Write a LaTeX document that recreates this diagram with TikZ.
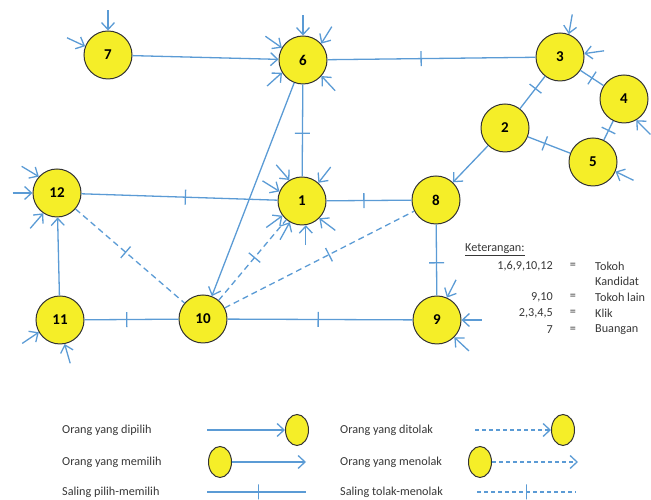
\documentclass[tikz,border=0pt]{standalone}
\usepackage{fontspec}
\setmainfont{Carlito}
\usetikzlibrary{arrows.meta,calc,shapes.geometric}
\definecolor{lblue}{RGB}{91,155,213}
\definecolor{nyellow}{RGB}{245,238,40}
\definecolor{ink}{RGB}{55,55,55}
\tikzset{
  pnode/.style={circle, draw=black!80, line width=1pt, fill=nyellow, minimum size=48pt, inner sep=0pt, font=\bfseries\fontsize{15}{15}\selectfont},
  lnode/.style={ellipse, draw=black!80, line width=1pt, fill=nyellow, minimum width=23pt, minimum height=31pt, inner sep=0pt},
  link/.style={draw=lblue, line width=1.3pt},
  arr/.style={link, -{Straight Barb[length=7pt,width=13pt]}},
  rej/.style={link, dash pattern=on 6pt off 4pt},
  rejarr/.style={rej, -{Straight Barb[length=7pt,width=13pt]}},
  tickmark/.style={draw=lblue, solid, line width=1.3pt, rectangle, minimum width=0pt, minimum height=15pt, inner sep=0pt, sloped},
  txt/.style={text=ink, font=\fontsize{12.2}{14}\selectfont, inner sep=0pt}
}
\newcommand\stub[3]{\draw[arr] ($(#1.#2)+(#3:20pt)$) -- (#1.#2);}
\begin{document}
\begin{tikzpicture}[x=1pt,y=1pt]
\useasboundingbox (0,0) rectangle (651,500);
% nodes
\node[pnode] (n7) at (108,445) {7};
\node[pnode] (n6) at (303,440) {6};
\node[pnode] (n3) at (560,443) {3};
\node[pnode] (n4) at (624,401) {4};
\node[pnode] (n2) at (505,372) {2};
\node[pnode] (n5) at (593,338) {5};
\node[pnode] (n12) at (57,307) {12};
\node[pnode] (n1) at (302,299) {1};
\node[pnode] (n8) at (436,300) {8};
\node[pnode] (n11) at (60,180) {11};
\node[pnode] (n10) at (203,181) {10};
\node[pnode] (n9) at (437,180) {9};
% edges
\draw[arr] (n7) -- (n6);
\draw[link] (n6) -- node[tickmark,pos=.45]{} (n3);
\draw[link] (n6) -- node[tickmark,pos=.53]{} (n1);
\draw[arr] (n6) -- (n10);
\draw[link] (n3) -- node[tickmark,pos=.38]{} (n2);
\draw[link] (n3) -- node[tickmark,pos=.5]{} (n4);
\draw[link] (n4) -- node[tickmark,pos=.5]{} (n5);
\draw[link] (n2) -- node[tickmark,pos=.4]{} (n5);
\draw[arr] (n2) -- (n8);
\draw[link] (n12) -- node[tickmark,pos=.53]{} (n1);
\draw[link] (n1) -- node[tickmark,pos=.44]{} (n8);
\draw[link] (n8) -- node[tickmark,pos=.54]{} (n9);
\draw[arr] (n11) -- (n12);
\draw[link] (n11) -- node[tickmark,pos=.45]{} (n10);
\draw[link] (n10) -- node[tickmark,pos=.49]{} (n9);
\draw[rej] (n12) -- node[tickmark,pos=.46]{} (n10);
\draw[rej] (n10) -- node[tickmark,pos=.53]{} (n1);
\draw[rej] (n10) -- node[tickmark,pos=.55]{} (n8);
% stubs
\stub{n7}{90}{90}
\stub{n7}{159}{155}
\stub{n6}{90}{90}
\stub{n6}{150}{145}
\stub{n6}{42}{58}
\stub{n6}{211}{222}
\stub{n6}{319}{313}
\stub{n3}{69}{80}
\stub{n3}{8}{8}
\stub{n4}{300}{315}
\stub{n5}{337}{334}
\stub{n12}{138}{149}
\stub{n12}{180}{180}
\stub{n12}{236}{229}
\stub{n11}{210}{214}
\stub{n11}{281}{286}
\stub{n1}{121}{131}
\stub{n1}{157}{148}
\stub{n1}{48}{52}
\stub{n1}{217}{216}
\stub{n1}{240}{241}
\stub{n1}{279}{270}
\stub{n1}{315}{323}
\stub{n9}{66}{63}
\stub{n9}{0}{0}
\stub{n9}{315}{317}
% keterangan
\node[txt, anchor=west] (kt) at (465,250) {\underline{Keterangan:}};
\node[txt, anchor=east] (k1a) at (553,234) {1,6,9,10,12};
\node[txt] (k1b) at (573,234) {=};
\node[txt, anchor=west] (k1c) at (595,234) {Tokoh};
\node[txt, anchor=west] (k1d) at (595,219) {Kandidat};
\node[txt, anchor=east] (k2a) at (553,203) {9,10};
\node[txt] (k2b) at (573,203) {=};
\node[txt, anchor=west] (k2c) at (595,203) {Tokoh lain};
\node[txt, anchor=east] (k3a) at (553,187) {2,3,4,5};
\node[txt] (k3b) at (573,187) {=};
\node[txt, anchor=west] (k3c) at (595,187) {Klik};
\node[txt, anchor=east] (k4a) at (553,170) {7};
\node[txt] (k4b) at (573,170) {=};
\node[txt, anchor=west] (k4c) at (595,170) {Buangan};
% bottom legend
\node[txt, anchor=west] (l1) at (62,70) {Orang yang dipilih};
\node[lnode] (e1) at (297,70) {};
\coordinate (c1) at (207,70);
\draw[arr] (c1) -- (e1);
\node[txt, anchor=west] (l2) at (340,70) {Orang yang ditolak};
\node[lnode] (e2) at (563,70) {};
\coordinate (c2) at (475,70);
\draw[rejarr, dash pattern=on 4pt off 3pt] (c2) -- (e2);
\node[txt, anchor=west] (l3) at (62,38) {Orang yang memilih};
\node[lnode] (e3) at (220,38) {};
\coordinate (c3) at (306,38);
\draw[arr] (e3) -- (c3);
\node[txt, anchor=west] (l4) at (340,38) {Orang yang menolak};
\node[lnode] (e4) at (480,38) {};
\coordinate (c4) at (578,38);
\draw[rejarr, dash pattern=on 4pt off 3pt] (e4) -- (c4);
\node[txt, anchor=west] (l5) at (62,8) {Saling pilih-memilih};
\coordinate (c5a) at (207,8);
\coordinate (c5b) at (306,8);
\draw[link] (c5a) -- node[tickmark,pos=.52]{} (c5b);
\node[txt, anchor=west] (l6) at (340,8) {Saling tolak-menolak};
\coordinate (c6a) at (477,8);
\coordinate (c6b) at (576,8);
\draw[rej, dash pattern=on 4pt off 3pt] (c6a) -- node[tickmark,pos=.5]{} (c6b);
\end{tikzpicture}
\end{document}
